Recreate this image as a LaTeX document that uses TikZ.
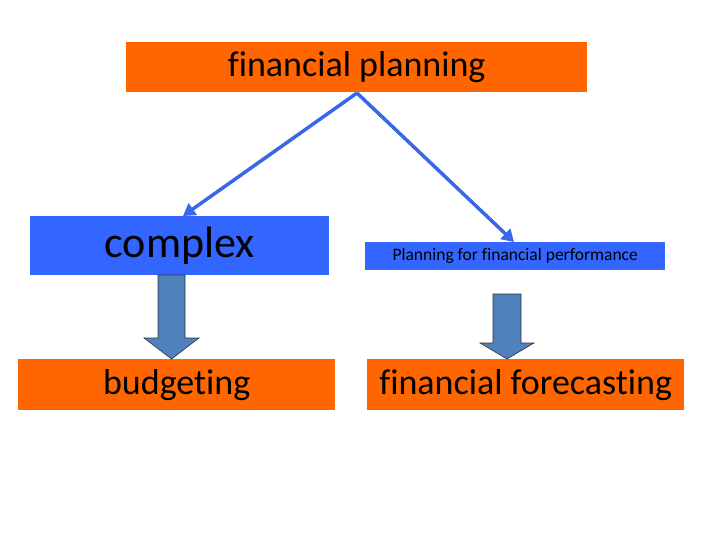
\documentclass[tikz,border=0pt]{standalone}
\usepackage{fontspec}
\setmainfont[Ligatures=CommonOff]{Carlito}
\usetikzlibrary{arrows.meta}
\definecolor{orng}{HTML}{FF6600}
\definecolor{blu}{HTML}{3366FF}
\definecolor{steel}{HTML}{4F81BD}
\definecolor{linkblue}{HTML}{3A66E8}
\tikzset{
  obox/.style={fill=orng, draw=none, inner sep=0pt, text=black},
  bbox/.style={fill=blu, draw=none, inner sep=0pt, text=black},
  link/.style={draw=linkblue, line width=3.5pt, -{Triangle[length=12pt,width=14pt]}},
  blockarrow/.style={fill=steel, draw=black!80, line width=0.6pt}
}
\begin{document}
\begin{tikzpicture}[x=1pt,y=-1pt]
\useasboundingbox (0,0) rectangle (720,540);
\node[obox, minimum width=461pt, minimum height=50pt, anchor=north west, font=\fontsize{36}{40}\selectfont] (fp) at (126,42) {financial planning};
\node[bbox, minimum width=299pt, minimum height=59pt, anchor=north west, font=\fontsize{44}{48}\selectfont] (cx) at (30,216) {complex};
\node[bbox, minimum width=300pt, minimum height=28pt, anchor=north west, font=\fontsize{17.5}{20}\selectfont] (pf) at (365,242) {Planning for financial performance};
\node[obox, minimum width=317pt, minimum height=51pt, anchor=north west, font=\fontsize{36}{40}\selectfont] (bd) at (18,359) {budgeting};
\node[obox, minimum width=317pt, minimum height=51pt, anchor=north west, font=\fontsize{36}{40}\selectfont] (ff) at (367,359) {financial forecasting};
\coordinate (top) at (357,93);
\draw[link] (top) -- (183,216);
\draw[link] (top) -- (514,242);
% block arrows
\draw[blockarrow] (158,275) -- (185,275) -- (185,338) -- (199,338) -- (171.5,359) -- (144,338) -- (158,338) -- cycle;
\draw[blockarrow] (493,294) -- (521,294) -- (521,343) -- (534,343) -- (507,359) -- (480,343) -- (493,343) -- cycle;
\end{tikzpicture}
\end{document}
